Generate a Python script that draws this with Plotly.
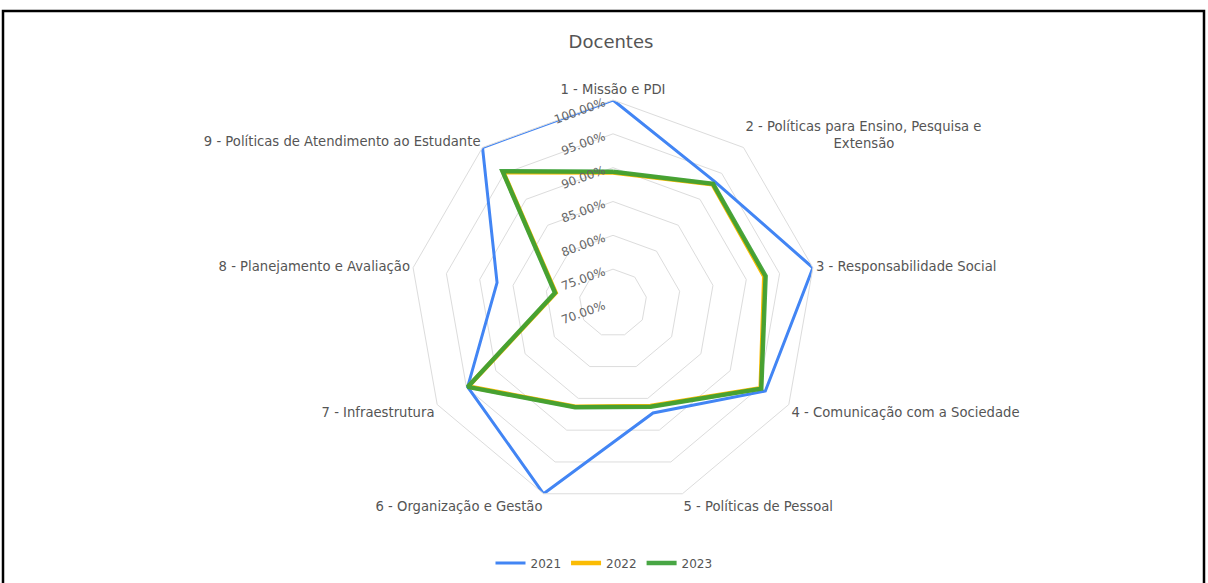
import plotly.graph_objects as go

categories = [
    "1 - Missão e PDI",
    "2 - Políticas para Ensino, Pesquisa e<br>" + "&nbsp;" * 21 + "Extensão",
    "3 - Responsabilidade Social",
    "4 - Comunicação com a Sociedade",
    "5 - Políticas de Pessoal",
    "6 - Organização e Gestão",
    "7 - Infraestrutura",
    "8 - Planejamento e Avaliação",
    "9 - Políticas de Atendimento ao Estudante",
]
v2021 = [1.000, 0.934, 1.000, 0.960, 0.873, 1.000, 0.948, 0.874, 1.000]
v2022 = [0.893, 0.929, 0.927, 0.952, 0.862, 0.863, 0.947, 0.786, 0.952]
v2023 = [0.894, 0.930, 0.929, 0.953, 0.863, 0.864, 0.948, 0.787, 0.954]
tick_vals = [0.70, 0.75, 0.80, 0.85, 0.90, 0.95, 1.00]
tick_text = ["70.00%", "75.00%", "80.00%", "85.00%", "90.00%", "95.00%", "100.00%"]

W, H = 1208, 583
cx, cy, R = 613, 303, 203
FONT = "DejaVu Sans, Arial, sans-serif"

def closed(a):
    return list(a) + [a[0]]

fig = go.Figure()
fig.add_trace(go.Scatterpolar(r=closed(v2021), theta=closed(categories), mode="lines",
                              name="2021", line=dict(color="#4285F4", width=3)))
fig.add_trace(go.Scatterpolar(r=closed(v2022), theta=closed(categories), mode="lines",
                              name="2022", line=dict(color="#FBBC04", width=4.5)))
fig.add_trace(go.Scatterpolar(r=closed(v2023), theta=closed(categories), mode="lines",
                              name="2023", line=dict(color="rgba(56,158,52,0.92)", width=4.5)))

fig.update_layout(
    width=W, height=H,
    margin=dict(l=0, r=0, t=0, b=0),
    paper_bgcolor="white",
    font=dict(family=FONT, size=12, color="#555555"),
    title=dict(text="Docentes", x=611 / W, xanchor="center", y=1 - 42 / H, yanchor="middle",
               font=dict(family=FONT, size=18, color="#555555")),
    polar=dict(
        domain=dict(x=[(cx - R) / W, (cx + R) / W], y=[(H - cy - R) / H, (H - cy + R) / H]),
        bgcolor="white",
        gridshape="linear",
        radialaxis=dict(range=[0.70, 1.0], tickvals=tick_vals, ticktext=tick_text,
                        angle=90, tickangle=70, side="counterclockwise", showline=False, ticks="",
                        gridcolor="#dcdcdc", gridwidth=1,
                        tickfont=dict(family=FONT, size=12, color="#666666")),
        angularaxis=dict(direction="clockwise", rotation=90, showgrid=False,
                         showline=True, linecolor="#dcdcdc", linewidth=1, ticks="",
                         tickfont=dict(family=FONT, size=13.2, color="#555555")),
    ),
    legend=dict(orientation="h", x=0.5, xanchor="center", y=20 / H, yanchor="middle",
                font=dict(family=FONT, size=12, color="#555555")),
    showlegend=True,
    shapes=[dict(type="rect", xref="paper", yref="paper", x0=3 / W, x1=1204 / W,
                 y0=-0.05, y1=1 - 11 / H, line=dict(color="black", width=2.5))],
)

fig.write_html("out.html", config={"displayModeBar": False},
               post_script="document.body.style.margin='0';document.body.style.overflow='hidden';")
